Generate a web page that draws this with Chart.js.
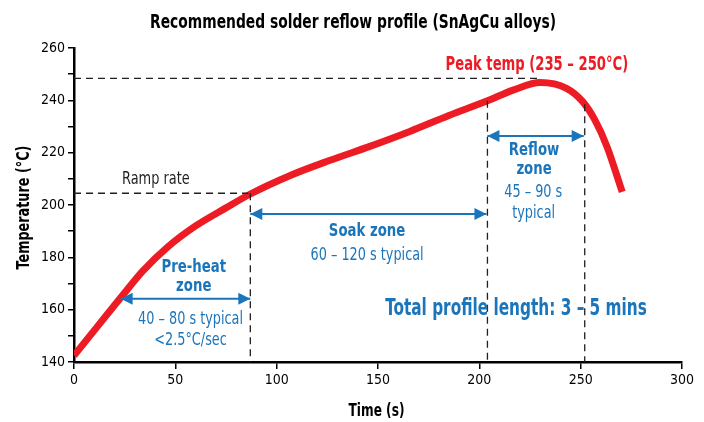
<!DOCTYPE html>
<html>
<head>
<meta charset="utf-8">
<script src="https://cdn.jsdelivr.net/npm/chart.js@4.4.1/dist/chart.umd.min.js"></script>
<style>
  html, body { margin: 0; padding: 0; background: #fff; }
  #wrap { width: 704px; height: 422px; }
</style>
</head>
<body>
<div id="wrap"><canvas id="reflowChart"></canvas></div>
<script>
// profile curve (time s, temperature °C)
const timeValues = [0, 12, 24, 34, 46, 60, 75, 87, 107, 126, 146, 166, 185, 204, 217, 230, 243, 251, 257, 263, 270.5];
const tempValues = [142.5, 154, 165.5, 174.8, 183.8, 192, 198.9, 204.2, 211.4, 217, 222.4, 228.2, 234.2, 239.8, 244, 246.8, 244.6, 239.5, 232.5, 222.3, 205];

// guide lines
const peakLine = [[0, 248.4], [229, 248.4]];
const rampLine = [[0, 204.5], [86, 204.5]];
const preheatEnd = [[87, 204.5], [87, 140]];
const soakEnd = [[204, 239.8], [204, 140]];
const reflowEnd = [[252, 238.5], [252, 140]];

// zone arrows
const preheatArrow = [[23, 164.2], [87, 164.2]];
const soakArrow = [[87, 196.6], [203.5, 196.6]];
const reflowArrow = [[204, 226.4], [251.5, 226.4]];

const xTicks = [0, 50, 100, 150, 200, 250, 300];
const yMin = 140, yMax = 260;

const RED = '#ed1c24';
const BLUE = '#1b75bb';
const FONT = "'DejaVu Sans Condensed', 'DejaVu Sans', sans-serif";

// text notes: [text, time, temp (baseline), style]
const notes = [
    ['Pre-heat', 59.1, 174.3, 'zoneBold'],
    ['zone', 59.1, 167.1, 'zoneBold'],
    ['40 – 80 s typical', 57.5, 154.5, 'zoneText'],
    ['<2.5°C/sec', 57.5, 146.5, 'zoneText'],
    ['Soak zone', 144.6, 188.3, 'zoneBold'],
    ['60 – 120 s typical', 144.6, 179.0, 'zoneText'],
    ['Reflow', 227, 219.1, 'zoneBold'],
    ['zone', 227, 211.9, 'zoneBold'],
    ['45 – 90 s', 226.6, 203.2, 'zoneText'],
    ['typical', 226.8, 194.9, 'zoneText'],
    ['Total profile length: 3 – 5 mins', 218.1, 158.0, 'total'],
    ['Peak temp (235 – 250°C)', 228.4, 251.6, 'peak'],
    ['Ramp rate', 40.4, 207.9, 'plain']
];
const noteStyles = {
    zoneBold: { font: 'bold 18px ' + FONT, color: BLUE, squeeze: 0.82 },
    zoneText: { font: '17px ' + FONT, color: BLUE, squeeze: 0.84 },
    total: { font: 'bold 23px ' + FONT, color: BLUE, squeeze: 0.74 },
    peak: { font: 'bold 19px ' + FONT, color: RED, squeeze: 0.77 },
    plain: { font: '17px ' + FONT, color: '#231f20', squeeze: 0.845 }
};

function toPoints(arr) {
    return arr.map(p => ({ x: p[0], y: p[1] }));
}

function dashed(arr) {
    return {
        data: toPoints(arr),
        borderColor: '#231f20',
        borderWidth: 1.3,
        borderDash: [7, 5],
        pointRadius: 0,
        tension: 0
    };
}

function arrow(arr) {
    return {
        data: toPoints(arr),
        borderColor: BLUE,
        borderWidth: 2,
        pointRadius: 0,
        tension: 0,
        isArrow: true
    };
}

function drawText(ctx, text, x, y, font, color, squeeze, angle) {
    ctx.save();
    ctx.translate(x, y);
    if (angle) ctx.rotate(angle);
    ctx.scale(squeeze, 1);
    ctx.font = font;
    ctx.fillStyle = color;
    ctx.textAlign = 'center';
    ctx.textBaseline = 'alphabetic';
    ctx.fillText(text, 0, 0);
    ctx.restore();
}

const annotationPlugin = {
    id: 'reflowNotes',
    afterDatasetsDraw(chart) {
        const ctx = chart.ctx;
        const xs = chart.scales.x, ys = chart.scales.y;
        ctx.save();

        // arrow heads
        chart.data.datasets.forEach((ds, i) => {
            if (!ds.isArrow) return;
            const pts = chart.getDatasetMeta(i).data;
            const a = pts[0], b = pts[pts.length - 1];
            const head = (tip, dir) => {
                ctx.beginPath();
                ctx.moveTo(tip.x, tip.y);
                ctx.lineTo(tip.x - dir * 12, tip.y - 6);
                ctx.lineTo(tip.x - dir * 12, tip.y + 6);
                ctx.closePath();
                ctx.fillStyle = BLUE;
                ctx.fill();
            };
            head(a, -1);
            head(b, 1);
        });

        // text notes
        notes.forEach(n => {
            const st = noteStyles[n[3]];
            drawText(ctx, n[0], xs.getPixelForValue(n[1]), ys.getPixelForValue(n[2]), st.font, st.color, st.squeeze);
        });

        // title and axis titles
        drawText(ctx, 'Recommended solder reflow profile (SnAgCu alloys)', 353, 28, 'bold 19px ' + FONT, '#000', 0.81);
        drawText(ctx, 'Time (s)', (xs.left + xs.right) / 2 - 1.5, 415.5, 'bold 18px ' + FONT, '#000', 0.75);
        drawText(ctx, 'Temperature (°C)', 28.5, (ys.top + ys.bottom) / 2 + 2.5, 'bold 18px ' + FONT, '#000', 0.79, -Math.PI / 2);
        ctx.restore();
    }
};

const ctx = document.getElementById('reflowChart').getContext('2d');

new Chart(ctx, {
    type: 'line',
    data: {
        datasets: [
            dashed(peakLine),
            dashed(rampLine),
            dashed(preheatEnd),
            dashed(soakEnd),
            dashed(reflowEnd),
            arrow(preheatArrow),
            arrow(soakArrow),
            arrow(reflowArrow),
            {
                label: 'Profile',
                data: timeValues.map((t, i) => ({ x: t, y: tempValues[i] })),
                borderColor: RED,
                borderWidth: 7,
                borderCapStyle: 'butt',
                pointRadius: 0,
                cubicInterpolationMode: 'monotone'
            }
        ]
    },
    options: {
        responsive: true,
        maintainAspectRatio: false,
        animation: false,
        layout: { padding: { left: 0, right: 22, top: 48, bottom: 0 } },
        plugins: {
            legend: { display: false },
            tooltip: { enabled: false }
        },
        scales: {
            x: {
                type: 'linear',
                min: 0,
                max: 300,
                afterBuildTicks: s => { s.ticks = xTicks.map(v => ({ value: v })); },
                afterFit: s => { s.height = 60; },
                border: { color: '#000', width: 2.5 },
                grid: { drawOnChartArea: false, drawTicks: true, tickLength: 7, color: '#000', lineWidth: 1.5 },
                ticks: { color: '#000', font: { family: FONT, size: 14 }, padding: 3, maxRotation: 0 }
            },
            y: {
                min: yMin,
                max: yMax,
                afterFit: s => { s.width = 74; },
                border: { color: '#000', width: 2.5 },
                grid: { drawOnChartArea: false, drawTicks: true, tickLength: 6, color: '#000', lineWidth: 1.5 },
                ticks: {
                    stepSize: 10,
                    color: '#000',
                    font: { family: FONT, size: 14 },
                    padding: 3,
                    callback: v => (v % 20 === 0 ? v : '')
                }
            }
        }
    },
    plugins: [annotationPlugin]
});
</script>
</body>
</html>
